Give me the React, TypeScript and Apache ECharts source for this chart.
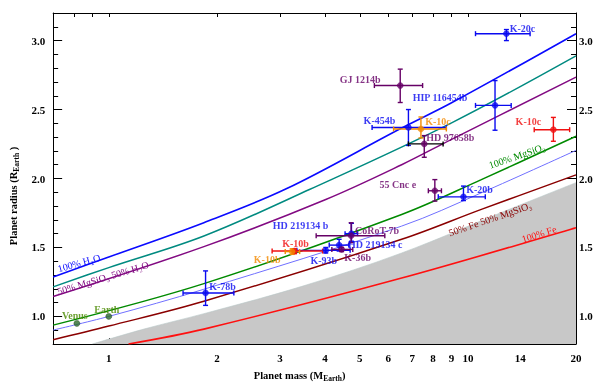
import React, { useEffect, useRef } from "react";
import * as echarts from "echarts";

// ---------- axis ticks ----------
const xTickMasses = [1, 2, 3, 4, 5, 6, 7, 8, 9, 10, 14, 20];
const xTopTickMasses = [0.8, 0.9, 1, 2, 3, 4, 5, 6, 7, 8, 9, 10, 14, 20];
const yTickValues = [1.0, 1.5, 2.0, 2.5, 3.0];
const massMin = 0.7;
const massMax = 20;
const radiusMin = 0.8;
const radiusMax = 3.2;

// ---------- model curves (mass in M_Earth, radius in R_Earth) ----------
const h2oMass = [0.7, 1, 1.84, 3.12, 6.54, 8.98, 20];
const h2oRadius = [1.286, 1.431, 1.68, 1.925, 2.366, 2.547, 3.05];
const tealMass = [0.7, 1, 1.84, 3.62, 8.98, 20];
const tealRadius = [1.214, 1.354, 1.583, 1.92, 2.402, 2.889];
const mixH2oMass = [0.7, 1.84, 4.02, 6.54, 8.98, 20];
const mixH2oRadius = [1.144, 1.506, 1.848, 2.1, 2.282, 2.735];
const mgsio3Mass = [0.7, 1.84, 6.54, 10.9, 20];
const mgsio3Radius = [0.937, 1.238, 1.739, 1.992, 2.306];
const earthLikeMass = [0.7, 1, 1.84, 6.54, 10.9, 20];
const earthLikeRadius = [0.901, 1.0, 1.197, 1.655, 1.896, 2.204];
const feMgMass = [0.7, 1, 1.84, 6.54, 10.9, 20];
const feMgRadius = [0.831, 0.93, 1.11, 1.559, 1.776, 2.026];
const feMass = [1.135, 1.84, 6.54, 20];
const feRadius = [0.8, 0.908, 1.278, 1.643];
const limitMass = [0.9, 1.26, 1.84, 3.47, 6.54, 12.3, 20];
const limitRadius = [0.8, 0.91, 1.02, 1.22, 1.46, 1.75, 1.97];

// ---------- planets ----------
const planetNames = [
  "K-20c", "HIP 116454b", "K-454b", "K-20b", "K-78b", "HD 219134 b", "HD 219134 c", "K-93b",
  "GJ 1214b", "HD 97658b", "55 Cnc e", "CoRoT-7b", "K-36b",
  "K-10c", "K-10b", "K-10c", "K-10b", "Venus", "Earth",
];
const planetSet = [
  "blue", "blue", "blue", "blue", "blue", "blue", "blue", "blue",
  "purple", "purple", "purple", "purple", "purple",
  "red", "red", "orange", "orange", "solar", "solar",
];
const planetMass = [12.8, 11.9, 6.83, 9.72, 1.86, 4.74, 4.38, 4.02, 6.48, 7.56, 8.09, 4.73, 4.45, 17.3, 3.29, 7.4, 3.24, 0.815, 1.0];
const planetRadius = [3.05, 2.53, 2.37, 1.867, 1.17, 1.6, 1.517, 1.479, 2.674, 2.251, 1.911, 1.585, 1.486, 2.354, 1.474, 2.359, 1.47, 0.949, 1.0];
const massLow = [10.5, 10.5, 5.41, 8.27, 1.61, 4.55, 4.11, 3.34, 5.49, 6.83, 7.76, 3.78, 4.18, 15.3, 2.85, 6.21, 3.1, 0.815, 1.0];
const massHigh = [14.9, 13.2, 8.71, 11.18, 2.23, 4.93, 4.66, 4.7, 7.48, 8.53, 8.44, 5.87, 4.78, 19.2, 3.94, 8.71, 3.4, 0.815, 1.0];
const radiusLow = [3.0, 2.35, 2.24, 1.84, 1.08, 1.545, 1.474, 1.46, 2.551, 2.154, 1.836, 1.535, 1.47, 2.27, 1.455, 2.294, 1.45, 0.949, 1.0];
const radiusHigh = [3.08, 2.71, 2.5, 1.945, 1.33, 1.675, 1.559, 1.5, 2.793, 2.311, 1.992, 1.679, 1.5, 2.443, 1.49, 2.446, 1.49, 0.949, 1.0];

// ---------- layout / style (not data) ----------
const labelOffsets: number[][] = [
  [16, -5.5], [-55, -8], [-29, -7], [16, -7], [17, -6], [-51, -8], [36, -1], [-2, 10],
  [-40, -6], [26, -6], [-37, -6], [26, -5], [16, 8],
  [-25, -8], [1, -8], [17, -7], [-25, 8], [-2, -8], [-2, -7],
];
const setColor: Record<string, string> = {
  blue: "#0a0af0",
  purple: "#660066",
  red: "#f01010",
  orange: "#f28a00",
  solar: "#2a6a2a",
};
const setLabelColor: Record<string, string> = {
  blue: "#0a0af0",
  purple: "#660066",
  red: "#f01010",
  orange: "#f28a00",
  solar: "#4a8a00",
};
const FONT = "'Liberation Serif', 'Times New Roman', serif";
const L = (v: number) => Math.log10(v);
const pairs = (m: number[], r: number[]) => m.map((v, i) => [L(v), r[i]]);

function curve(name: string, m: number[], r: number[], color: string, width = 1.5) {
  return {
    name,
    type: "line",
    data: pairs(m, r),
    showSymbol: false,
    smooth: 0.35,
    silent: true,
    lineStyle: { color, width },
    z: 3,
  };
}

export default function App() {
  const ref = useRef<HTMLDivElement>(null);
  useEffect(() => {
    const chart = echarts.init(ref.current!, null, { renderer: "svg" });
    const axisText = { color: "#000", fontFamily: FONT, fontSize: 11, fontWeight: "bold" };
    const richName = {
      a: { fontFamily: FONT, fontSize: 10.5, color: "#000", lineHeight: 14, verticalAlign: "middle", fontWeight: "bold" },
      b: { fontFamily: FONT, fontSize: 7.5, color: "#000", lineHeight: 8, verticalAlign: "bottom", fontWeight: "bold" },
    };
    const errData = planetNames.map((_, i) => [
      L(planetMass[i]), planetRadius[i], L(massLow[i]), L(massHigh[i]), radiusLow[i], radiusHigh[i],
    ]);
    const curveFont = `10px ${FONT}`;
    const option: any = {
      animation: false,
      grid: { left: 48, right: 24, top: 13, bottom: 42 },
      xAxis: [
        {
          type: "value", position: "bottom", min: L(massMin), max: L(massMax),
          axisLine: { onZero: false, lineStyle: { color: "#000", width: 1 } },
          axisTick: { inside: true, length: 6, customValues: xTickMasses.map(L), lineStyle: { color: "#000" } },
          axisLabel: {
            ...axisText, margin: 8, customValues: xTickMasses.map(L),
            formatter: (v: number) => String(Math.round(Math.pow(10, v))),
          },
          splitLine: { show: false },
          name: "{a|Planet mass (M}{b|Earth}{a|)}",
          nameLocation: "middle", nameGap: 24,
          nameTextStyle: { rich: richName, padding: [0, 30, 0, 0] },
        },
        {
          type: "value", position: "top", min: L(massMin), max: L(massMax),
          axisLine: { onZero: false, lineStyle: { color: "#000", width: 1 } },
          axisTick: { inside: true, length: 4, customValues: xTopTickMasses.map(L), lineStyle: { color: "#000" } },
          axisLabel: { show: false },
          splitLine: { show: false },
        },
      ],
      yAxis: [
        {
          type: "value", position: "left", min: radiusMin, max: radiusMax,
          axisLine: { onZero: false, lineStyle: { color: "#000", width: 1 } },
          axisTick: { inside: true, length: 9, customValues: yTickValues, lineStyle: { color: "#000" } },
          axisLabel: { ...axisText, margin: 8, customValues: yTickValues, formatter: (v: number) => v.toFixed(1) },
          splitLine: { show: false },
          name: "{a|Planet radius (R}{b|Earth}{a| )}",
          nameLocation: "middle", nameGap: 28,
          nameTextStyle: { rich: richName, padding: [0, 35, 0, 0] },
        },
        {
          type: "value", position: "left", min: radiusMin, max: radiusMax, interval: 0.1,
          axisLine: { show: false, onZero: false },
          axisTick: { inside: true, length: 5, lineStyle: { color: "#000" } },
          axisLabel: { show: false },
          splitLine: { show: false },
        },
        {
          type: "value", position: "right", min: radiusMin, max: radiusMax,
          axisLine: { onZero: false, lineStyle: { color: "#000", width: 1 } },
          axisTick: { inside: true, length: 9, customValues: yTickValues, lineStyle: { color: "#000" } },
          axisLabel: { ...axisText, margin: 3, customValues: yTickValues, formatter: (v: number) => v.toFixed(1) },
          splitLine: { show: false },
        },
        {
          type: "value", position: "right", min: radiusMin, max: radiusMax, interval: 0.1,
          axisLine: { show: false, onZero: false },
          axisTick: { inside: true, length: 5, lineStyle: { color: "#000" } },
          axisLabel: { show: false },
          splitLine: { show: false },
        },
      ],
      series: [
        {
          name: "limit", type: "line", data: pairs(limitMass, limitRadius), showSymbol: false, smooth: 0.35,
          silent: true, lineStyle: { width: 0.6, color: "#b8c8c8" },
          areaStyle: { color: "#c8c8c8", opacity: 1, origin: "start" }, z: 1,
        },
        curve("100% H2O", h2oMass, h2oRadius, "#0a0aff", 1.6),
        curve("teal", tealMass, tealRadius, "#008a80", 1.5),
        curve("50% MgSiO3 50% H2O", mixH2oMass, mixH2oRadius, "#820a82", 1.5),
        curve("100% MgSiO3", mgsio3Mass, mgsio3Radius, "#008a00", 1.5),
        curve("earth-like", earthLikeMass, earthLikeRadius, "#7070ff", 1),
        curve("50% Fe 50% MgSiO3", feMgMass, feMgRadius, "#8a0000", 1.5),
        curve("100% Fe", feMass, feRadius, "#ff1010", 1.6),
        {
          name: "errors", type: "custom", silent: true, z: 5,
          data: errData,
          renderItem: (params: any, api: any) => {
            const i = params.dataIndex;
            const color = setColor[planetSet[i]];
            const xColor = planetNames[i] === "HD 97658b" ? "#000" : color;
            const y = api.value(1);
            const x = api.value(0);
            const c = api.coord([x, y]);
            const xl = api.coord([api.value(2), y]);
            const xh = api.coord([api.value(3), y]);
            const yl = api.coord([x, api.value(4)]);
            const yh = api.coord([x, api.value(5)]);
            const cap = 2.5;
            const children: any[] = [];
            const ln = (x1: number, y1: number, x2: number, y2: number, col: string) => ({
              type: "line", shape: { x1, y1, x2, y2 }, style: { stroke: col, lineWidth: 1.4 },
            });
            if (xh[0] - xl[0] > 0.5) {
              children.push(ln(xl[0], c[1], xh[0], c[1], xColor));
              children.push(ln(xl[0], c[1] - cap, xl[0], c[1] + cap, xColor));
              children.push(ln(xh[0], c[1] - cap, xh[0], c[1] + cap, xColor));
            }
            if (yl[1] - yh[1] > 0.5) {
              children.push(ln(c[0], yl[1], c[0], yh[1], color));
              children.push(ln(c[0] - cap, yl[1], c[0] + cap, yl[1], color));
              children.push(ln(c[0] - cap, yh[1], c[0] + cap, yh[1], color));
            }
            return { type: "group", children };
          },
        },
        {
          name: "planets", type: "scatter", silent: true, z: 6,
          symbol: "circle", symbolSize: 6,
          data: planetNames.map((n, i) => ({
            value: [L(planetMass[i]), planetRadius[i]],
            name: n,
            itemStyle: {
              color: setColor[planetSet[i]],
              borderColor: planetSet[i] === "solar" ? "#1a3a1a" : setColor[planetSet[i]],
              borderWidth: 0.5,
            },
            label: {
              show: true, formatter: n, position: "inside", offset: labelOffsets[i],
              color: setLabelColor[planetSet[i]], fontFamily: FONT, fontSize: 10, fontWeight: "bold",
            },
          })),
        },
      ],
      graphic: [
        { type: "text", x: 79, y: 263, rotation: 0.27, z: 10, style: { text: "100% H₂O", fill: "#0a0aff", font: curveFont, align: "center", verticalAlign: "middle" } },
        { type: "text", x: 103, y: 278, rotation: 0.29, z: 10, style: { text: "50% MgSiO₃ 50% H₂O", fill: "#820a82", font: curveFont, align: "center", verticalAlign: "middle" } },
        { type: "text", x: 517, y: 156, rotation: 0.33, z: 10, style: { text: "100% MgSiO₃", fill: "#008a00", font: curveFont, align: "center", verticalAlign: "middle" } },
        { type: "text", x: 490, y: 219, rotation: 0.33, z: 10, style: { text: "50% Fe 50% MgSiO₃", fill: "#8a0000", font: curveFont, align: "center", verticalAlign: "middle" } },
        { type: "text", x: 539, y: 234, rotation: 0.3, z: 10, style: { text: "100% Fe", fill: "#ff1010", font: curveFont, align: "center", verticalAlign: "middle" } },
      ],
    };
    chart.setOption(option);
    return () => chart.dispose();
  }, []);
  return <div ref={ref} style={{ position: "fixed", left: 0, top: 0, width: 600, height: 387 }} />;
}
